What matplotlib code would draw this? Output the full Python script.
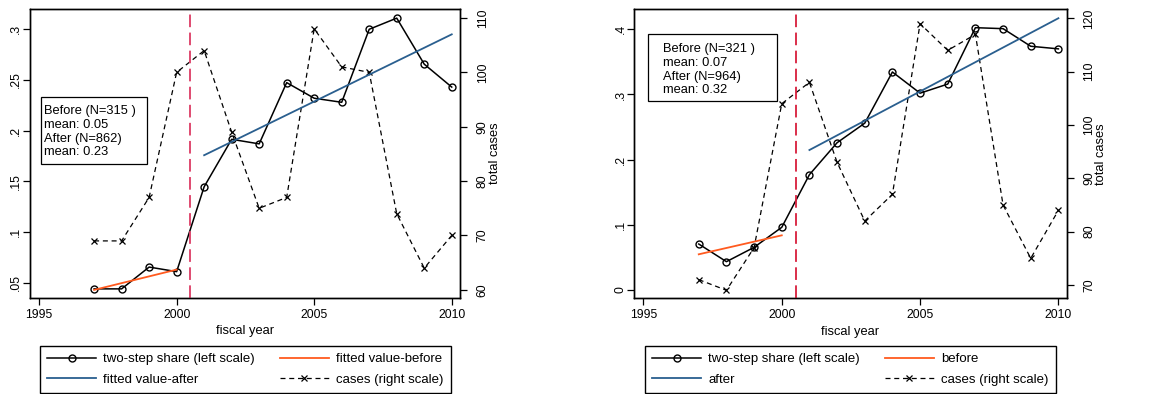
import numpy as np
import matplotlib
matplotlib.use('Agg')
import matplotlib.pyplot as plt
from matplotlib.patches import Rectangle

plt.rcParams['font.family'] = ['Liberation Sans', 'DejaVu Sans']
plt.rcParams['font.size'] = 9

years = [1997, 1998, 1999, 2000, 2001, 2002, 2003, 2004, 2005, 2006, 2007, 2008, 2009, 2010]

# left panel
share_a = [0.044, 0.044, 0.0655, 0.061, 0.1447, 0.1915, 0.187, 0.2474, 0.232, 0.228, 0.300, 0.311, 0.2656, 0.243]
cases_a = [69, 69, 77, 100, 104, 89, 75, 77, 108, 101, 100, 74, 64, 70]
fit_before_a = ([1997, 2000], [0.043, 0.063])
fit_after_a = ([2001, 2010], [0.1758, 0.295])
text_a = "Before (N=315 )\nmean: 0.05\nAfter (N=862)\nmean: 0.23"
labels_a = ['two-step share (left scale)', 'fitted value-after', 'fitted value-before', 'cases (right scale)']

# right panel
share_b = [0.0706, 0.0435, 0.0655, 0.0962, 0.177, 0.226, 0.256, 0.3345, 0.302, 0.316, 0.4025, 0.401, 0.374, 0.370]
cases_b = [71, 69, 77, 104, 108, 93, 82, 87, 119, 114, 117, 85, 75, 84]
fit_before_b = ([1997, 2000], [0.0548, 0.0839])
fit_after_b = ([2001, 2010], [0.2148, 0.417])
text_b = "Before (N=321 )\nmean: 0.07\nAfter (N=964)\nmean: 0.32"
labels_b = ['two-step share (left scale)', 'after', 'before', 'cases (right scale)']

cutoff = 2000.5

W, H = 1158, 394
fig = plt.figure(figsize=(W / 100, H / 100), dpi=100)

def px(x0, y0, x1, y1):
    # pixel box (top-left origin) -> figure fraction rect
    return (x0 / W, 1 - y1 / H, (x1 - x0) / W, (y1 - y0) / H)

def panel(rect, share, cases, fb, fa, txt, boxpx, txtpx, labels, yl, yr, yticks, ytlab, rticks, vcol, legpx):
    ax = fig.add_axes(rect)
    ax2 = ax.twinx()
    ax.set_zorder(ax2.get_zorder() + 1)
    ax.patch.set_visible(False)
    h1, = ax.plot(years, share, color='black', lw=1.1, marker='o', ms=5,
                  mfc='none', mec='black', mew=1.0)
    h2, = ax.plot(fb[0], fb[1], color='#ff5a1f', lw=1.3)
    h3, = ax.plot(fa[0], fa[1], color='#2a5f8f', lw=1.3)
    ax.axvline(cutoff, color=vcol, lw=1.3, dashes=(7, 3))
    h4, = ax2.plot(years, cases, color='black', lw=0.9, ls=(0, (4, 3)),
                   marker='x', ms=4, mew=0.9)
    ax.set_xlim(1994.67, 2010.3)
    ax.set_xticks([1995, 2000, 2005, 2010])
    ax.set_ylim(*yl)
    ax.set_yticks(yticks)
    ax.set_yticklabels(ytlab)
    ax2.set_ylim(*yr)
    ax2.set_yticks(rticks)
    for a in (ax, ax2):
        a.tick_params(direction='out', length=5, width=0.9, labelsize=8.8)
        for s in a.spines.values():
            s.set_linewidth(1.0)
    ax.tick_params(axis='x', pad=3)
    ax.tick_params(axis='y', pad=0.5)
    ax2.tick_params(axis='y', pad=7)
    plt.setp(ax.get_yticklabels(), rotation=90, va='center')
    plt.setp(ax2.get_yticklabels(), rotation=90, va='center')
    ax.set_xlabel('fiscal year', fontsize=9.3, labelpad=3)
    ax2.set_ylabel('total cases', fontsize=9.3, labelpad=0)
    # annotation box
    r = px(*boxpx)
    fig.patches.append(Rectangle(r[:2], r[2], r[3], transform=fig.transFigure,
                                 fc='white', ec='black', lw=0.9, zorder=5))
    fig.text(txtpx[0] / W, 1 - txtpx[1] / H, txt, fontsize=9.3, va='top', ha='left',
             linespacing=1.2, zorder=6)
    hs = [h1, h3, h2, h4]
    fig.legend(hs, labels, ncol=2, loc='upper left',
               bbox_to_anchor=(legpx[0] / W, 1 - legpx[1] / H),
               frameon=True, fancybox=False, edgecolor='black',
               fontsize=9.5, handlelength=3.7, labelspacing=0.6,
               borderaxespad=0, framealpha=1, handletextpad=0.55,
               columnspacing=1.9, borderpad=0.55)
    return ax

panel(px(30, 9, 460, 298), share_a, cases_a, fit_before_a, fit_after_a,
      text_a, (40.7, 97, 146.7, 164), (44, 105), labels_a, (0.035, 0.32), (58.5, 111.65),
      [0.05, 0.1, 0.15, 0.2, 0.25, 0.3], ['.05', '.1', '.15', '.2', '.25', '.3'],
      [60, 70, 80, 90, 100, 110], '#dc3c64', (40, 346))

panel(px(634.3, 9.3, 1066.7, 298.3), share_b, cases_b, fit_before_b, fit_after_b,
      text_b, (648.3, 34.3, 776.7, 101), (663, 43), labels_b, (-0.0127, 0.4307), (67.5, 121.7),
      [0, 0.1, 0.2, 0.3, 0.4], ['0', '.1', '.2', '.3', '.4'],
      [70, 80, 90, 100, 110, 120], '#d81e3c', (645, 346))

fig.savefig('out.png', dpi=100)
